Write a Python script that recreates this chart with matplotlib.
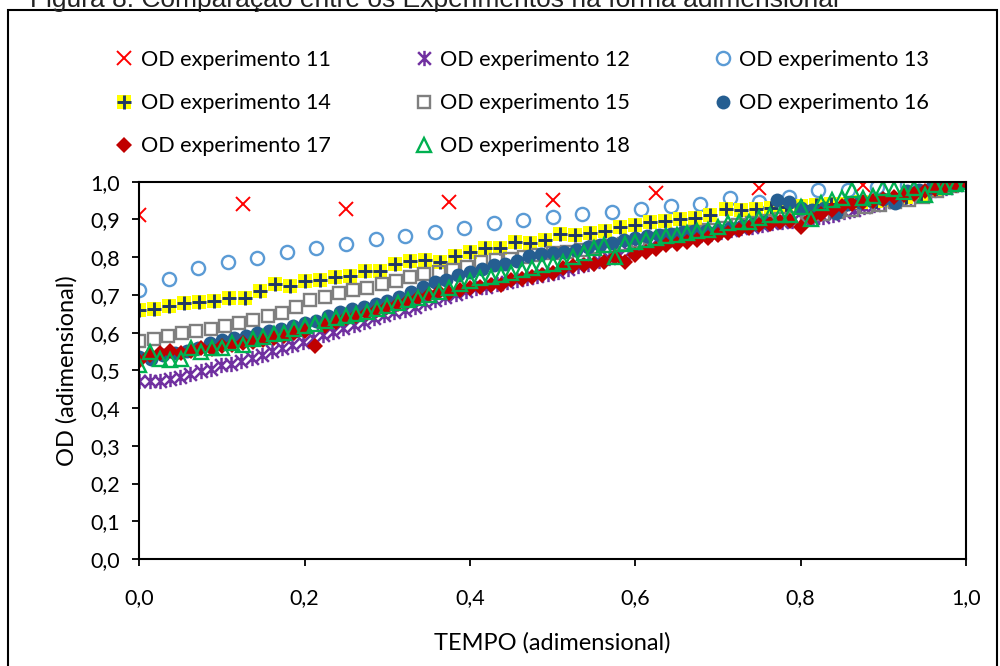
import matplotlib
matplotlib.use("Agg")
import matplotlib.pyplot as plt
import numpy as np
from matplotlib.path import Path
from matplotlib.patches import Rectangle
from matplotlib.ticker import FuncFormatter, MultipleLocator
from matplotlib.legend_handler import HandlerTuple

plt.rcParams["font.family"] = ["Lato", "DejaVu Sans"]

# OD adimensional de cada experimento (tempo adimensional = amostra / ultima amostra)
od_11 = [0.912, 0.940, 0.927, 0.945, 0.951, 0.971, 0.984, 0.992, 1.000]
od_12 = [0.472, 0.472, 0.473, 0.476, 0.481, 0.489, 0.497, 0.504, 0.513, 0.518,
         0.525, 0.533, 0.541, 0.550, 0.558, 0.567, 0.576, 0.585, 0.594, 0.602,
         0.611, 0.620, 0.629, 0.638, 0.647, 0.655, 0.660, 0.669, 0.678, 0.686,
         0.694, 0.702, 0.709, 0.717, 0.722, 0.728, 0.735, 0.740, 0.745, 0.751,
         0.756, 0.761, 0.768, 0.776, 0.783, 0.791, 0.799, 0.806, 0.813, 0.821,
         0.829, 0.837, 0.845, 0.850, 0.854, 0.858, 0.862, 0.866, 0.871, 0.876,
         0.881, 0.886, 0.890, 0.894, 0.897, 0.901, 0.904, 0.907, 0.913, 0.919,
         0.926, 0.932, 0.939, 0.945, 0.951, 0.957, 0.963, 0.970, 0.977, 0.984,
         0.992, 1.000]
od_13 = [0.713, 0.741, 0.772, 0.786, 0.798, 0.814, 0.824, 0.835, 0.847, 0.857,
         0.867, 0.878, 0.890, 0.898, 0.907, 0.914, 0.920, 0.928, 0.935, 0.942,
         0.958, 0.947, 0.960, 0.978, 0.978, 0.985, 0.990, 0.995, 1.000]
od_14 = [0.660, 0.663, 0.671, 0.679, 0.680, 0.684, 0.691, 0.693, 0.711, 0.728,
         0.724, 0.738, 0.739, 0.748, 0.751, 0.764, 0.764, 0.781, 0.790, 0.792,
         0.788, 0.803, 0.814, 0.823, 0.823, 0.839, 0.837, 0.845, 0.861, 0.859,
         0.863, 0.870, 0.879, 0.886, 0.892, 0.897, 0.900, 0.905, 0.912, 0.928,
         0.925, 0.928, 0.930, 0.932, 0.935, 0.938, 0.940, 0.942, 0.945, 0.948,
         0.952, 0.960, 0.968, 0.978, 0.988, 1.000]
od_15 = [0.578, 0.584, 0.592, 0.598, 0.603, 0.610, 0.617, 0.626, 0.634, 0.643,
         0.652, 0.668, 0.686, 0.694, 0.704, 0.713, 0.718, 0.729, 0.738, 0.748,
         0.755, 0.761, 0.766, 0.775, 0.788, 0.792, 0.795, 0.801, 0.806, 0.810,
         0.814, 0.820, 0.826, 0.830, 0.836, 0.842, 0.848, 0.855, 0.860, 0.866,
         0.872, 0.878, 0.884, 0.890, 0.895, 0.900, 0.905, 0.910, 0.915, 0.920,
         0.926, 0.932, 0.938, 0.945, 0.952, 0.960, 0.975, 0.988, 1.000]
od_16 = [0.535, 0.530, 0.540, 0.545, 0.550, 0.560, 0.572, 0.580, 0.585, 0.590,
         0.598, 0.603, 0.610, 0.618, 0.625, 0.632, 0.645, 0.655, 0.662, 0.668,
         0.676, 0.685, 0.695, 0.708, 0.722, 0.733, 0.740, 0.752, 0.760, 0.768,
         0.778, 0.782, 0.790, 0.803, 0.808, 0.810, 0.814, 0.820, 0.828, 0.832,
         0.838, 0.845, 0.850, 0.855, 0.858, 0.862, 0.866, 0.868, 0.870, 0.872,
         0.876, 0.882, 0.888, 0.893, 0.951, 0.947, 0.930, 0.925, 0.930, 0.916,
         0.940, 0.947, 0.950, 0.955, 0.943, 0.975, 0.978, 0.982, 0.988, 0.994,
         1.000]
od_17 = [0.525, 0.540, 0.545, 0.552, 0.545, 0.550, 0.558, 0.556, 0.565, 0.568,
         0.572, 0.575, 0.580, 0.586, 0.592, 0.598, 0.605, 0.565, 0.618, 0.628,
         0.638, 0.645, 0.652, 0.660, 0.668, 0.676, 0.684, 0.692, 0.700, 0.708,
         0.704, 0.713, 0.718, 0.722, 0.725, 0.727, 0.739, 0.742, 0.748, 0.752,
         0.758, 0.770, 0.776, 0.779, 0.782, 0.788, 0.800, 0.786, 0.805, 0.814,
         0.822, 0.832, 0.835, 0.840, 0.845, 0.850, 0.858, 0.865, 0.872, 0.878,
         0.885, 0.888, 0.892, 0.895, 0.881, 0.905, 0.915, 0.925, 0.935, 0.940,
         0.945, 0.950, 0.955, 0.960, 0.964, 0.968, 0.975, 0.980, 0.986, 0.992,
         1.000]
od_18 = [0.514, 0.549, 0.529, 0.527, 0.529, 0.558, 0.549, 0.558, 0.560, 0.572,
         0.566, 0.582, 0.588, 0.596, 0.600, 0.610, 0.618, 0.622, 0.630, 0.640,
         0.645, 0.650, 0.655, 0.662, 0.670, 0.678, 0.686, 0.692, 0.700, 0.708,
         0.718, 0.728, 0.738, 0.744, 0.748, 0.752, 0.757, 0.765, 0.772, 0.778,
         0.782, 0.788, 0.800, 0.812, 0.825, 0.832, 0.801, 0.836, 0.840, 0.845,
         0.850, 0.855, 0.860, 0.865, 0.870, 0.872, 0.880, 0.890, 0.894, 0.894,
         0.905, 0.912, 0.912, 0.912, 0.934, 0.900, 0.943, 0.951, 0.956, 0.978,
         0.958, 0.962, 0.982, 0.980, 0.972, 0.982, 0.965, 0.991, 0.987, 0.993,
         1.000]

labels = ["OD experimento 11", "OD experimento 12", "OD experimento 13",
          "OD experimento 14", "OD experimento 15", "OD experimento 16",
          "OD experimento 17", "OD experimento 18"]


def tempo(od):
    n = len(od)
    return np.arange(n) / (n - 1)


# Excel-style "star": an x with a vertical bar
star = Path([(-1, -1), (1, 1), (-1, 1), (1, -1), (0, -1.2), (0, 1.2)],
            [Path.MOVETO, Path.LINETO] * 3)

fig = plt.figure(figsize=(10, 6.66), dpi=100)
ax = fig.add_axes([0.1393, 0.1607, 0.8267, 0.5665])

h11, = ax.plot(tempo(od_11), od_11, ls="none", marker="x", ms=10, mew=1.4, color="#FF0000")
h12, = ax.plot(tempo(od_12), od_12, ls="none", marker=star, ms=11, mew=1.8, color="#7030A0")
h13, = ax.plot(tempo(od_13), od_13, ls="none", marker="o", ms=9.5, mew=1.7,
               mfc="none", mec="#5B9BD5")
h14a, = ax.plot(tempo(od_14), od_14, ls="none", marker="s", ms=9.5, mew=0,
                color="#FFFF00")
h14b, = ax.plot(tempo(od_14), od_14, ls="none", marker="+", ms=9.5, mew=2.1,
                color="#203864")
h15, = ax.plot(tempo(od_15), od_15, ls="none", marker="s", ms=9, mew=1.7,
               mfc="none", mec="#7F7F7F")
h16, = ax.plot(tempo(od_16), od_16, ls="none", marker="o", ms=10, mew=0,
               color="#255E91")
h17, = ax.plot(tempo(od_17), od_17, ls="none", marker="D", ms=8, mew=0,
               color="#C00000")
h18, = ax.plot(tempo(od_18), od_18, ls="none", marker="^", ms=10.5, mew=1.7,
               mfc="none", mec="#00B050")

ax.set_xlim(0, 1)
ax.set_ylim(0, 1)
ax.xaxis.set_major_locator(MultipleLocator(0.2))
ax.yaxis.set_major_locator(MultipleLocator(0.1))
comma = FuncFormatter(lambda v, p: f"{v:.1f}".replace(".", ","))
ax.xaxis.set_major_formatter(comma)
ax.yaxis.set_major_formatter(comma)
ax.tick_params(direction="out", length=5, width=1.3, labelsize=15.5, color="black", pad=9)
ax.tick_params(axis="x", pad=16)
for s in ax.spines.values():
    s.set_linewidth(1.5)
    s.set_color("black")
ax.set_xlabel("TEMPO (adimensional)", fontsize=17, labelpad=17)
ax.set_ylabel("OD (adimensional)", fontsize=17, labelpad=9)

handles = [h11, h12, h13, (h14a, h14b), h15, h16, h17, h18]
order = [0, 3, 6, 1, 4, 7, 2, 5]
fig.legend([handles[i] for i in order], [labels[i] for i in order],
           ncol=3, loc="upper left", bbox_to_anchor=(0.106, 0.938),
           frameon=False, fontsize=15.6, handlelength=0.9, handletextpad=0.3,
           columnspacing=3.85, labelspacing=1.07, borderaxespad=0,
           handler_map={tuple: HandlerTuple(ndivide=1)})

# chart border and (partly hidden) caption above it
fig.patches.append(Rectangle((0.008, -0.05), 0.989, 1.05 - 10 / 666, transform=fig.transFigure,
                             fill=False, lw=1.5, ec="black"))
fig.text(0.030, 1 - 7 / 666, "Figura 8: Comparação entre os Experimentos na forma adimensional",
         fontsize=19, family="Liberation Sans", va="baseline", ha="left", color="#222222")

fig.savefig("out.png", dpi=100)
